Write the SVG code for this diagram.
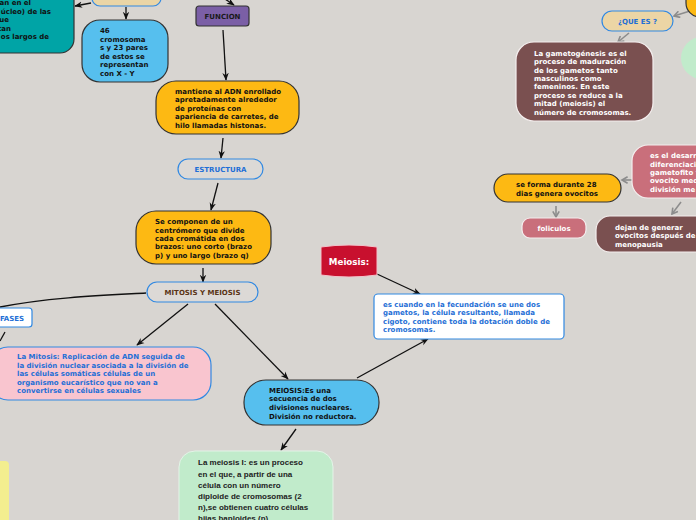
<svg xmlns="http://www.w3.org/2000/svg" width="696" height="520" viewBox="0 0 696 520">
<style>
.b{font-family:"DejaVu Sans",Verdana,sans-serif;font-weight:bold;font-size:7px}
.k{fill:#111}
.w{fill:#fff}
.bl{fill:#1f6fd6}
.dk{stroke:#333;stroke-width:1.2}
.bs{stroke:#3189e2;stroke-width:1.2}
.ws{stroke:#f4eeee;stroke-width:1.2}
.c{fill:none;stroke:#111;stroke-width:1.3}
.g{fill:none;stroke:#8c8c8c;stroke-width:1.6}
.gr{font-family:"Liberation Sans",Arial,sans-serif;font-weight:bold;font-size:8px;fill:#222}
</style>
<defs>
<marker id="ab" viewBox="0 0 10 10" refX="9" refY="5" markerWidth="8" markerHeight="8" orient="auto" markerUnits="userSpaceOnUse">
<path d="M0,1 L10,5 L0,9 L3,5 z" fill="#111"/>
</marker>
<marker id="ag" viewBox="0 0 10 10" refX="8" refY="5" markerWidth="8" markerHeight="8" orient="auto" markerUnits="userSpaceOnUse">
<path d="M1,1 L8,5 L1,9" fill="none" stroke="#8c8c8c" stroke-width="2"/>
</marker>
</defs>
<rect x="0" y="0" width="696" height="520" fill="#d8d5d1"/>

<g id="connectors">
<line class="c" x1="91" y1="3" x2="75" y2="6" marker-end="url(#ab)"/>
<line class="c" x1="126" y1="7" x2="126" y2="19" marker-end="url(#ab)"/>
<line class="c" x1="222" y1="-3" x2="234" y2="5" marker-end="url(#ab)"/>
<line class="c" x1="223" y1="30" x2="226" y2="80" marker-end="url(#ab)"/>
<line class="c" x1="223" y1="138" x2="221" y2="158" marker-end="url(#ab)"/>
<line class="c" x1="218" y1="183" x2="211" y2="210" marker-end="url(#ab)"/>
<line class="c" x1="203" y1="268" x2="203" y2="282" marker-end="url(#ab)"/>
<path class="c" d="M146,293 C110,295 50,297 0,307"/>
<line class="c" x1="5" y1="332" x2="0" y2="341"/>
<line class="c" x1="188" y1="304" x2="137" y2="345" marker-end="url(#ab)"/>
<line class="c" x1="215" y1="304" x2="288" y2="379" marker-end="url(#ab)"/>
<line class="c" x1="357" y1="378" x2="428" y2="339" marker-end="url(#ab)"/>
<line class="c" x1="377" y1="274" x2="420" y2="294" marker-end="url(#ab)"/>
<line class="c" x1="296" y1="429" x2="281" y2="450" marker-end="url(#ab)"/>
<line class="g" x1="690" y1="11" x2="674" y2="16" marker-end="url(#ag)"/>
<line class="g" x1="629" y1="33" x2="618" y2="42" marker-end="url(#ag)"/>
<line class="g" x1="632" y1="180" x2="622" y2="180" marker-end="url(#ag)"/>
<line class="g" x1="556" y1="206" x2="556" y2="217" marker-end="url(#ag)"/>
<line class="g" x1="681" y1="202" x2="672" y2="214" marker-end="url(#ag)"/>
</g>

<g id="n-teal">
<rect x="-20" y="-20" width="94" height="73" rx="14" fill="#00a4a6" class="dk"/>
<text class="b k" text-anchor="end"><tspan x="31" y="5">an en el</tspan><tspan x="51" y="14">úcleo) de las</tspan><tspan x="9" y="22">ue</tspan><tspan x="11" y="31">tan</tspan><tspan x="49" y="39">os largos de</tspan></text>
</g>

<g id="n-tan">
<rect x="92" y="-20" width="69" height="26" rx="8" fill="#ead5a6" class="bs"/>
</g>

<g id="n-46">
<rect x="82" y="20" width="86" height="62" rx="18" fill="#56bfee" class="dk"/>
<text class="b k"><tspan x="100" y="33">46</tspan><tspan x="100" y="41.5">cromosoma</tspan><tspan x="100" y="50">s y 23 pares</tspan><tspan x="100" y="58.5">de estos se</tspan><tspan x="100" y="67">representan</tspan><tspan x="100" y="75.5">con X - Y</tspan></text>
</g>

<g id="n-funcion">
<rect x="196" y="6" width="53" height="20" rx="3" fill="#7b5fa6" class="dk"/>
<text class="b" x="222.5" y="18.5" text-anchor="middle" fill="#1a1a1a">FUNCION</text>
</g>

<g id="n-mantiene">
<rect x="156" y="81" width="143" height="53" rx="20" fill="#fdb913" class="dk"/>
<text class="b k"><tspan x="175" y="93.5">mantiene al ADN enrollado</tspan><tspan x="175" y="102">apretadamente alrededor</tspan><tspan x="175" y="110.5">de proteínas con</tspan><tspan x="175" y="119">apariencia de carretes, de</tspan><tspan x="175" y="128">hilo llamadas histonas.</tspan></text>
</g>

<g id="n-estructura">
<rect x="178" y="159" width="85" height="20" rx="10" fill="#dcd9d6" class="bs"/>
<text class="b bl" x="220.5" y="171.5" text-anchor="middle">ESTRUCTURA</text>
</g>

<g id="n-componen">
<rect x="136" y="211" width="135" height="53" rx="20" fill="#fdb913" class="dk"/>
<text class="b k"><tspan x="155" y="223.5">Se componen de un</tspan><tspan x="155" y="232.5">centrómero que divide</tspan><tspan x="155" y="240.5">cada cromátida en dos</tspan><tspan x="155" y="249">brazos: uno corto (brazo</tspan><tspan x="155" y="257.5">p) y uno largo (brazo q)</tspan></text>
</g>

<g id="n-mitosismeiosis">
<rect x="147" y="282" width="111" height="20" rx="10" fill="#dcd9d6" class="bs"/>
<text class="b" x="202.5" y="294.5" text-anchor="middle" fill="#5a3414">MITOSIS Y MEIOSIS</text>
</g>

<g id="n-fases">
<rect x="-10" y="308" width="42" height="19" rx="3" fill="#fff" class="bs"/>
<text class="b bl" x="12" y="320.5" text-anchor="middle">FASES</text>
</g>

<g id="n-mitosis">
<rect x="-10" y="347" width="221" height="53" rx="18" fill="#f9c5cf" class="bs"/>
<text class="b bl"><tspan x="17" y="358.5">La Mitosis: Replicación de ADN seguida de</tspan><tspan x="17" y="367.5">la división nuclear asociada a la división de</tspan><tspan x="17" y="375.5">las células somáticas células de un</tspan><tspan x="17" y="384.5">organismo eucarístico que no van a</tspan><tspan x="17" y="392.5">convertirse en células sexuales</tspan></text>
</g>

<g id="n-meiosis-def">
<rect x="244" y="380" width="135" height="45" rx="22" fill="#56bfee" class="dk"/>
<text class="b k"><tspan x="269" y="392.5">MEIOSIS:Es una</tspan><tspan x="269" y="400.5">secuencia de dos</tspan><tspan x="269" y="409.5">divisiones nucleares.</tspan><tspan x="269" y="418.5">División no reductora.</tspan></text>
</g>

<g id="n-meiosis1">
<rect x="179" y="451" width="154" height="90" rx="16" fill="#c1ebcb" stroke="#e4f4e8" stroke-width="1"/>
<text class="gr"><tspan x="198" y="465">La meiosis I: es un proceso</tspan><tspan x="198" y="476.5">en el que, a partir de una</tspan><tspan x="198" y="487.5">célula con un número</tspan><tspan x="198" y="499">diploide de cromosomas (2</tspan><tspan x="198" y="510">n),se obtienen cuatro células</tspan><tspan x="198" y="521">hijas haploides (n)</tspan></text>
</g>

<g id="n-yellow">
<rect x="-10" y="461" width="19" height="70" rx="4" fill="#f3ee8f"/>
</g>

<g id="n-meiosis-red">
<path d="M321,247 Q349,243 377,247 L377,275 Q349,279 321,275 Z" fill="#c8102e" stroke="#f2c4cc" stroke-width="1"/>
<text class="b w" x="349" y="265" text-anchor="middle" style="font-size:8.7px">Meiosis:</text>
</g>

<g id="n-fecundacion">
<rect x="374" y="294" width="190" height="45" rx="4" fill="#fff" class="bs"/>
<text class="b bl"><tspan x="383" y="306.5">es cuando en la fecundación se une dos</tspan><tspan x="383" y="314.5">gametos, la célula resultante, llamada</tspan><tspan x="383" y="323.5">cigoto, contiene toda la dotación doble de</tspan><tspan x="383" y="331.5">cromosomas.</tspan></text>
</g>

<g id="n-topright">
<rect x="686" y="-30" width="60" height="47" rx="14" fill="#fdb913" class="dk"/>
</g>

<g id="n-quees">
<rect x="602" y="11" width="71" height="20" rx="10" fill="#ecd5a5" class="bs"/>
<text class="b bl" x="637.5" y="23.5" text-anchor="middle">¿QUE ES ?</text>
</g>

<g id="n-gameto">
<rect x="516" y="42" width="137" height="79" rx="18" fill="#7a5050" class="ws"/>
<text class="b w"><tspan x="534" y="55.5">La gametogénesis es el</tspan><tspan x="534" y="63.5">proceso de maduración</tspan><tspan x="534" y="72.5">de los gametos tanto</tspan><tspan x="534" y="80.5">masculinos como</tspan><tspan x="534" y="88.5">femeninos. En este</tspan><tspan x="534" y="97.5">proceso se reduce a la</tspan><tspan x="534" y="105.5">mitad (meiosis) el</tspan><tspan x="534" y="114.5">número de cromosomas.</tspan></text>
</g>

<g id="n-green-right">
<rect x="681" y="37" width="50" height="42" rx="21" fill="#c1ebcb"/>
</g>

<g id="n-desarrollo">
<rect x="632" y="145" width="90" height="53" rx="16" fill="#c96f7b" class="ws"/>
<text class="b w"><tspan x="650" y="157.5">es el desarr</tspan><tspan x="650" y="166.5">diferenciaci</tspan><tspan x="650" y="174.5">gametofito f</tspan><tspan x="650" y="182.5">ovocito med</tspan><tspan x="650" y="191.5">división me</tspan></text>
</g>

<g id="n-seforma">
<rect x="494" y="174" width="127" height="28" rx="14" fill="#fdb913" class="dk"/>
<text class="b k"><tspan x="516" y="186.5">se forma durante 28</tspan><tspan x="516" y="195.5">dias  genera ovocitos</tspan></text>
</g>

<g id="n-foliculos">
<rect x="522" y="218" width="64" height="20" rx="8" fill="#c96f7b" class="ws"/>
<text class="b w" x="554" y="231" text-anchor="middle">foliculos</text>
</g>

<g id="n-dejan">
<rect x="596" y="216" width="120" height="36" rx="14" fill="#7a5050" class="ws"/>
<text class="b w"><tspan x="615" y="229.5">dejan de generar</tspan><tspan x="615" y="237.5">ovocitos después de</tspan><tspan x="615" y="246.5">menopausia</tspan></text>
</g>
</svg>
